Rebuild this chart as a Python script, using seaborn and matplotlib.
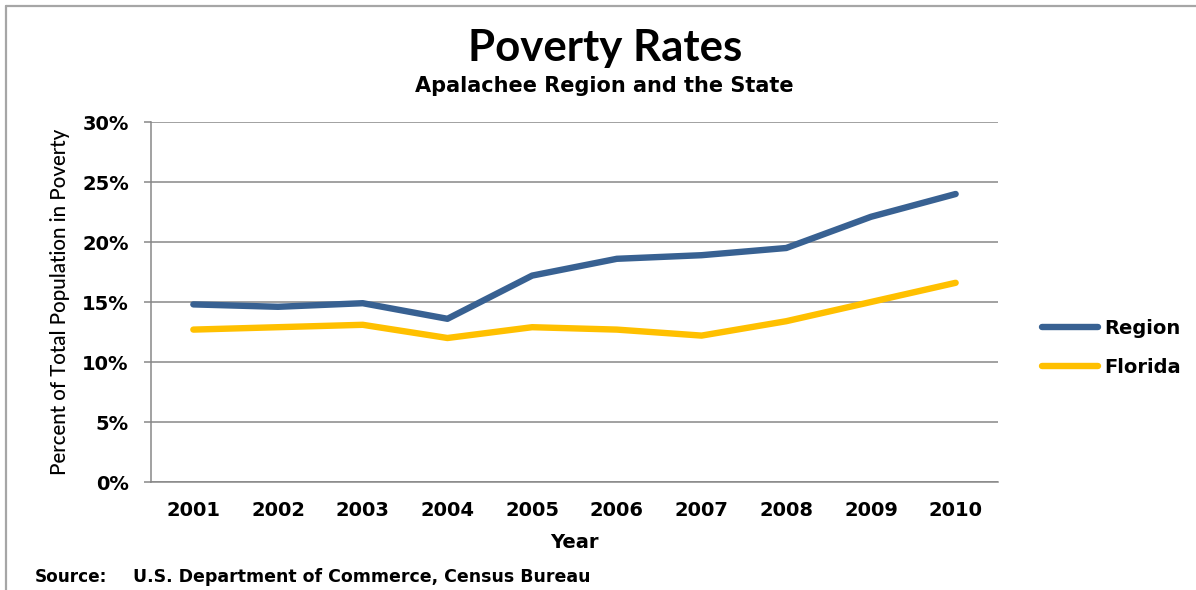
import matplotlib
matplotlib.use("Agg")
import matplotlib.pyplot as plt
import seaborn as sns
import pandas as pd
from matplotlib.lines import Line2D

# Poverty rates (%) by year
years = [2001, 2002, 2003, 2004, 2005, 2006, 2007, 2008, 2009, 2010]
region = [14.8, 14.6, 14.9, 13.6, 17.2, 18.6, 18.9, 19.5, 22.1, 24.0]
florida = [12.7, 12.9, 13.1, 12.0, 12.9, 12.7, 12.2, 13.4, 15.0, 16.6]
series_names = ["Region", "Florida"]
series_colors = ["#386192", "#FFC000"]
y_ticks = [0, 5, 10, 15, 20, 25, 30]

df = pd.DataFrame({
    "Year": years * 2,
    "Rate": region + florida,
    "Series": [series_names[0]] * len(years) + [series_names[1]] * len(years),
})

sns.set_style("white")
plt.rcParams["font.family"] = ["DejaVu Sans"]
plt.rcParams["text.color"] = "black"
plt.rcParams["axes.labelcolor"] = "black"
plt.rcParams["xtick.labelcolor"] = "black"
plt.rcParams["ytick.labelcolor"] = "black"

W, H = 1196, 590
fig = plt.figure(figsize=(W / 100, H / 100), dpi=100)
ax = fig.add_axes([151 / W, 1 - 482 / H, (998 - 151) / W, (482 - 122) / H])

palette = dict(zip(series_names, series_colors))
sns.lineplot(data=df, x="Year", y="Rate", hue="Series", hue_order=series_names,
             palette=palette, linewidth=4.6, ax=ax, legend=False,
             solid_capstyle="round", solid_joinstyle="round")

grid_col = "#878787"
ax.set_xlim(years[0] - 0.5, years[-1] + 0.5)
ax.set_ylim(0, 30)
ax.set_xticks(years)
ax.set_xticklabels([str(y) for y in years])
ax.set_yticks(y_ticks)
ax.set_yticklabels([f"{v}%" for v in y_ticks])
ax.yaxis.grid(True, color=grid_col, linewidth=1.1)
ax.xaxis.grid(False)
ax.set_axisbelow(True)

for side in ["top", "right"]:
    ax.spines[side].set_visible(False)
for side in ["left", "bottom"]:
    ax.spines[side].set_color(grid_col)
    ax.spines[side].set_linewidth(1.1)

ax.tick_params(axis="y", which="major", left=True, length=5, width=1.1,
               color=grid_col, labelcolor="black", pad=11, labelsize=14)
ax.tick_params(axis="x", which="major", bottom=False, length=0, pad=14,
               labelcolor="black", labelsize=14)
for lbl in ax.get_xticklabels() + ax.get_yticklabels():
    lbl.set_fontweight("bold")

ax.set_xlabel("Year", fontsize=14, fontweight="bold", color="black")
ax.xaxis.label.set_va("center")
ax.xaxis.set_label_coords(0.5, (482 - 543) / (482 - 122))

ax.set_ylabel("Percent of Total Population in Poverty", family="Lato",
              fontsize=14.8, fontweight="medium", color="black")
ax.yaxis.label.set_va("center")
ax.yaxis.set_label_coords((60 - 151) / (998 - 151), 0.5)

# Legend
handles = [Line2D([0], [0], color=c, lw=4.6, solid_capstyle="round")
           for c in series_colors]
fig.legend(handles, series_names, loc="center left",
           bbox_to_anchor=(1042 / W, 1 - 348 / H), frameon=False,
           borderpad=0, borderaxespad=0, handlelength=2.9,
           handletextpad=0.3, labelspacing=1.0,
           prop={"size": 14, "weight": "bold"})

# Titles
fig.text(605 / W, 1 - 48 / H, "Poverty Rates", family="Lato",
         fontweight="bold", fontsize=31.5, ha="center", va="center")
fig.text(604 / W, 1 - 86 / H, "Apalachee Region and the State",
         fontweight="bold", fontsize=15, ha="center", va="center")

# Source note
fig.text(35 / W, 1 - 577 / H, "Source:", fontweight="bold", fontsize=12.2,
         ha="left", va="center")
fig.text(133 / W, 1 - 577 / H, "U.S. Department of Commerce, Census Bureau",
         fontweight="bold", fontsize=12.5, ha="left", va="center")

# Chart area border
frame_col = "#a6a6a6"
fig.add_artist(Line2D([6 / W, 1], [1 - 6 / H, 1 - 6 / H],
                      transform=fig.transFigure, color=frame_col, lw=1.6))
fig.add_artist(Line2D([6 / W, 6 / W], [1 - 6 / H, 0],
                      transform=fig.transFigure, color=frame_col, lw=1.6))

fig.savefig("out.png", dpi=100)
